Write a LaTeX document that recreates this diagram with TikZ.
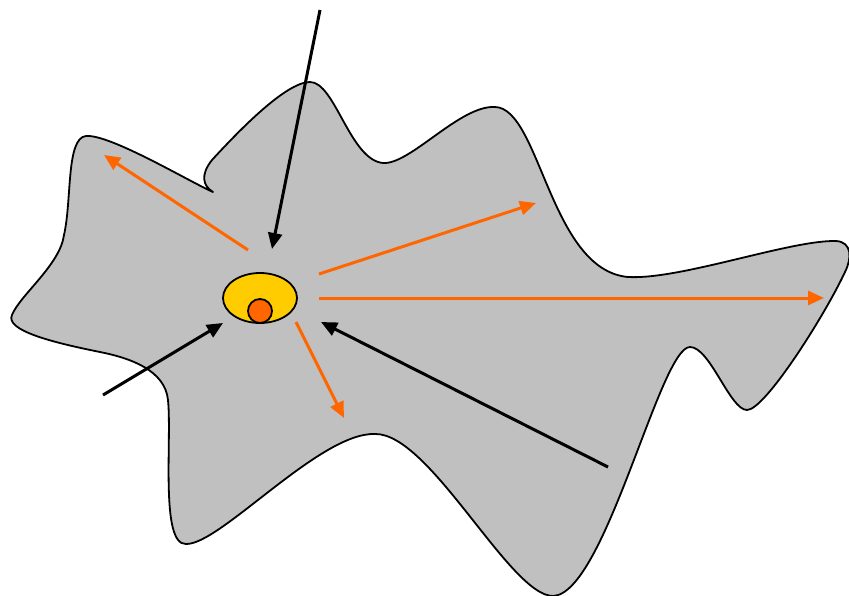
\documentclass[tikz,border=0pt]{standalone}
\usetikzlibrary{arrows.meta,shapes.geometric}
\definecolor{blobgray}{HTML}{C0C0C0}
\definecolor{coreyellow}{HTML}{FFCC00}
\definecolor{coreorange}{HTML}{FF6600}
\tikzset{
  outline/.style={draw=black, line width=1.8pt, fill=blobgray, line join=round},
  inarrow/.style={draw=black, line width=3pt, -{Triangle[length=16pt,width=14pt]}},
  outarrow/.style={draw=coreorange, line width=3pt, -{Triangle[length=16pt,width=14pt]}},
  coreshape/.style={ellipse, draw=black, line width=1.8pt, fill=coreyellow, minimum width=74pt, minimum height=50pt, inner sep=0pt},
  nucleus/.style={circle, draw=black, line width=1.8pt, fill=coreorange, minimum size=24pt, inner sep=0pt},
}
\begin{document}
\begin{tikzpicture}[x=1pt,y=-1pt]
\useasboundingbox (0,0) rectangle (849,596);
\draw[outline]
 (86,136) .. controls (110,134) and (190,182) .. (213,192)
 .. controls (203,186) and (200,175) .. (212,160)
 .. controls (235,135) and (285,82) .. (310,82)
 .. controls (335,82) and (350,160) .. (383,163)
 .. controls (410,165) and (460,105) .. (495,107)
 .. controls (540,108) and (550,270) .. (628,277)
 .. controls (680,280) and (790,240) .. (836,241)
 .. controls (852,242) and (852,258) .. (845,272)
 .. controls (825,315) and (765,410) .. (747,410)
 .. controls (730,410) and (710,347) .. (690,347)
 .. controls (660,347) and (605,594) .. (553,596)
 .. controls (510,596) and (430,433) .. (375,434)
 .. controls (320,432) and (220,545) .. (186,544)
 .. controls (160,545) and (172,440) .. (168,400)
 .. controls (165,370) and (130,358) .. (100,352)
 .. controls (50,342) and (5,330) .. (12,315)
 .. controls (20,295) and (60,265) .. (64,235)
 .. controls (72,200) and (66,138) .. (86,136) -- cycle;
\node[coreshape] (core) at (260,298) {};
\node[nucleus] (nuc) at (260,311) {};
% inward (black) arrows
\coordinate (topstart) at (320,10);
\coordinate (toptip) at (272,249);
\coordinate (leftstart) at (103,395);
\coordinate (lefttip) at (223,323);
\coordinate (rightstart) at (608,467);
\coordinate (righttip) at (321,322);
\draw[inarrow] (topstart) -- (toptip);
\draw[inarrow] (leftstart) -- (lefttip);
\draw[inarrow] (rightstart) -- (righttip);
% outward (orange) arrows
\coordinate (o1s) at (248,250);
\coordinate (o1e) at (104,155);
\coordinate (o2s) at (319,274);
\coordinate (o2e) at (536,203);
\coordinate (o3s) at (319,298);
\coordinate (o3e) at (824,298);
\coordinate (o4s) at (296,322);
\coordinate (o4e) at (344,418);
\draw[outarrow] (o1s) -- (o1e);
\draw[outarrow] (o2s) -- (o2e);
\draw[outarrow] (o3s) -- (o3e);
\draw[outarrow] (o4s) -- (o4e);
\end{tikzpicture}
\end{document}
